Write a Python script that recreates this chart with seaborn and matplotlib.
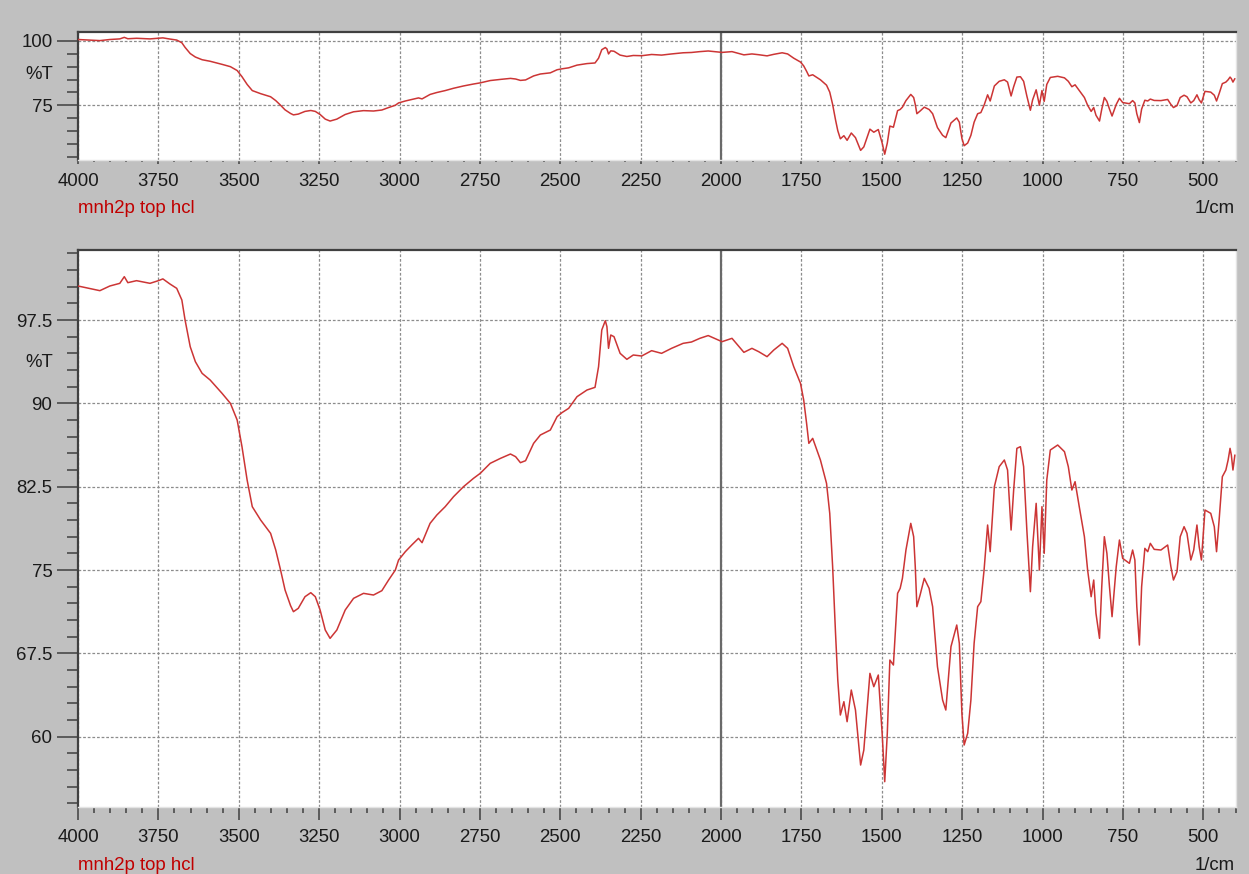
import numpy as np
import pandas as pd
import matplotlib
matplotlib.use("Agg")
import matplotlib.pyplot as plt
import seaborn as sns

# FTIR spectrum (1/cm, %T)
wavenumber = [
    4000, 3932, 3901, 3870, 3856, 3845, 3818, 3776, 3750, 3736, 3714, 3693,
    3677, 3667, 3651, 3635, 3614, 3589, 3552, 3526, 3505, 3490, 3474, 3458,
    3432, 3401, 3385, 3370, 3356, 3339, 3330, 3315, 3294, 3276, 3262, 3247,
    3231, 3216, 3195, 3169, 3143, 3112, 3081, 3055, 3034, 3013, 3003, 2982,
    2962, 2941, 2930, 2905, 2884, 2858, 2832, 2801, 2770, 2749, 2718, 2686,
    2655, 2639, 2624, 2608, 2583, 2562, 2531, 2510, 2495, 2474, 2448, 2417,
    2392, 2381, 2371, 2360, 2355, 2350, 2343, 2333, 2314, 2293, 2273, 2247,
    2216, 2185, 2154, 2118, 2092, 2066, 2040, 1997, 1966, 1929, 1904, 1883,
    1857, 1836, 1810, 1793, 1774, 1753, 1743, 1734, 1727, 1715, 1691, 1672,
    1662, 1653, 1644, 1637, 1629, 1618, 1608, 1595, 1582, 1566, 1556, 1537,
    1525, 1511, 1499, 1491, 1483, 1475, 1464, 1451, 1443, 1436, 1425, 1410,
    1401, 1396, 1391, 1381, 1368, 1353, 1342, 1327, 1311, 1301, 1285, 1267,
    1259, 1251, 1244, 1233, 1223, 1213, 1202, 1192, 1182, 1171, 1163, 1150,
    1135, 1119, 1109, 1098, 1090, 1080, 1069, 1059, 1049, 1038, 1031, 1020,
    1010, 1002, 995, 987, 976, 953, 932, 920, 909, 899, 886, 870,
    860, 849, 841, 834, 823, 816, 808, 800, 792, 784, 771, 761,
    751, 730, 720, 713, 707, 699, 692, 682, 673, 665, 653, 632,
    611, 601, 593, 582, 572, 560, 551, 539, 530, 520, 513, 506,
    495, 477, 466, 459, 451, 441, 430, 423, 417, 413, 408, 402,
]
transmittance = [
    100.56, 100.14, 100.56, 100.8, 101.4, 100.86, 101.04, 100.8, 101.04, 101.2, 100.74, 100.35,
    99.3, 97.5, 95.1, 93.75, 92.7, 92.1, 90.9, 90.0, 88.5, 86.1, 83.1, 80.7,
    79.5, 78.3, 76.8, 75.0, 73.2, 71.8, 71.25, 71.55, 72.6, 72.96, 72.6, 71.4,
    69.6, 68.85, 69.6, 71.4, 72.45, 72.9, 72.75, 73.14, 74.1, 75.0, 75.9, 76.65,
    77.25, 77.85, 77.46, 79.2, 79.95, 80.7, 81.6, 82.5, 83.25, 83.7, 84.6, 85.05,
    85.44, 85.2, 84.66, 84.84, 86.4, 87.15, 87.6, 88.8, 89.16, 89.55, 90.6, 91.2,
    91.44, 93.3, 96.6, 97.44, 96.9, 94.95, 96.15, 96.0, 94.5, 93.96, 94.35, 94.26,
    94.74, 94.5, 94.95, 95.4, 95.52, 95.85, 96.1, 95.55, 95.85, 94.59, 94.95, 94.65,
    94.2, 94.8, 95.4, 94.95, 93.3, 91.8, 90.3, 88.2, 86.4, 86.85, 84.9, 82.8,
    80.1, 75.3, 69.3, 65.1, 61.95, 63.15, 61.35, 64.2, 62.4, 57.45, 58.8, 65.7,
    64.5, 65.55, 60.3, 55.95, 60.3, 66.9, 66.45, 72.9, 73.35, 74.25, 76.8, 79.2,
    78.0, 75.3, 71.7, 72.75, 74.25, 73.35, 71.7, 66.3, 63.3, 62.4, 68.1, 70.05,
    68.4, 62.1, 59.25, 60.3, 63.3, 68.4, 71.7, 72.15, 75.0, 79.05, 76.65, 82.5,
    84.3, 84.9, 84.0, 78.6, 82.2, 85.95, 86.1, 84.3, 78.6, 73.05, 77.1, 81.0,
    75.0, 80.7, 76.5, 83.1, 85.8, 86.25, 85.65, 84.3, 82.2, 82.95, 80.7, 78.0,
    75.0, 72.6, 74.1, 71.1, 68.85, 73.5, 78.0, 76.5, 73.5, 70.8, 75.3, 77.7,
    76.05, 75.6, 76.8, 75.9, 71.7, 68.25, 73.5, 76.95, 76.65, 77.4, 76.86, 76.8,
    77.25, 75.3, 74.1, 74.85, 78.0, 78.9, 78.3, 75.9, 76.8, 79.05, 77.1, 75.9,
    80.4, 80.1, 78.9, 76.65, 79.5, 83.4, 84.0, 84.9, 85.95, 85.35, 84.0, 85.35,
]

sample_label = "mnh2p top hcl"
unit_label = "1/cm"
y_label = "%T"

x_major = list(range(500, 4001, 250))
x_minor = list(range(400, 4001, 50))
top_yticks = [75, 100]
top_ylabels = ["75", "100"]
top_yminor = list(range(55, 100, 5))
bot_yticks = [60, 67.5, 75, 82.5, 90, 97.5]
bot_ylabels = ["60", "67.5", "75", "82.5", "90", "97.5"]
bot_yminor = list(np.arange(54, 103.6, 1.5))

df = pd.DataFrame({"wavenumber": wavenumber, "T": transmittance})

sns.set_theme(style="white")
plt.rcParams['font.family'] = ['Liberation Sans', 'DejaVu Sans']

bg = "#c0c0c0"
dark = "#404040"
line_color = "#cc3535"
label_red = "#c00000"

fig = plt.figure(figsize=(12.49, 8.74), dpi=100, facecolor=bg)
W, H = 1249, 874
ax_top = fig.add_axes([78 / W, 1 - 160 / H, 1158 / W, 128.3 / H])
ax_bot = fig.add_axes([78 / W, 1 - 806.7 / H, 1158 / W, 556.7 / H])

# axes, y range, ticks, labels, minor ticks, %T position, x tick lengths, footer offset
panels = [
    (ax_top, (53.7, 103.6), top_yticks, top_ylabels, top_yminor, 86.8, (3, 1.5), -38.4),
    (ax_bot, (53.7, 103.8), bot_yticks, bot_ylabels, bot_yminor, 93.7, (9.5, 4.5), -45.5),
]

for ax, ylim, yt, ylab, ymin_t, t_pos, xlen, foot in panels:
    ax.set_facecolor("white")
    ax.set_axisbelow(True)
    sns.lineplot(data=df, x="wavenumber", y="T", ax=ax, color=line_color,
                 linewidth=1.1, sort=False, estimator=None, zorder=3)
    ax.axvline(2000, color="#6a6a6a", linewidth=1.6, zorder=2)
    ax.set_xlim(4000, 398.5)
    ax.set_ylim(*ylim)
    ax.set_xlabel("")
    ax.set_ylabel("")

    ax.set_xticks(x_major)
    ax.set_xticks(x_minor, minor=True)
    ax.set_xticklabels([str(v) for v in x_major])
    ax.set_yticks(yt)
    ax.set_yticklabels(ylab)
    ax.set_yticks(ymin_t, minor=True)

    ax.grid(True, which="major", color="#8c8c8c", linestyle=(0, (2.2, 1.5)),
            linewidth=0.9)

    ax.tick_params(axis="x", which="major", direction="out", length=xlen[0],
                   width=1.1, color=dark, pad=6.5, labelsize=13.4,
                   labelcolor="#1a1a1a", bottom=True)
    ax.tick_params(axis="x", which="minor", direction="out", length=xlen[1],
                   width=1.1, color=dark, bottom=True)
    ax.tick_params(axis="y", which="major", direction="out", length=15,
                   width=1.1, color=dark, pad=3.4, labelsize=13.4,
                   labelcolor="#1a1a1a", left=True)
    ax.tick_params(axis="y", which="minor", direction="out", length=8,
                   width=1.1, color=dark, left=True)

    for side in ["left", "top"]:
        ax.spines[side].set_color(dark)
        ax.spines[side].set_linewidth(1.6)
    for side in ["right", "bottom"]:
        ax.spines[side].set_color("#e4e4e4")
        ax.spines[side].set_linewidth(1.0)

    ax.text(-0.0219, t_pos, y_label, transform=ax.get_yaxis_transform(),
            ha="right", va="center", fontsize=13.4, color="#1a1a1a")
    ax.annotate(sample_label, xy=(0, 0), xycoords="axes fraction",
                xytext=(0, foot), textcoords="offset points",
                ha="left", va="baseline", fontsize=13.4, color=label_red)
    ax.annotate(unit_label, xy=(1, 0), xycoords="axes fraction",
                xytext=(-1, foot), textcoords="offset points",
                ha="right", va="baseline", fontsize=13.4, color="#1a1a1a")

fig.savefig("out.png", dpi=100, facecolor=bg)
